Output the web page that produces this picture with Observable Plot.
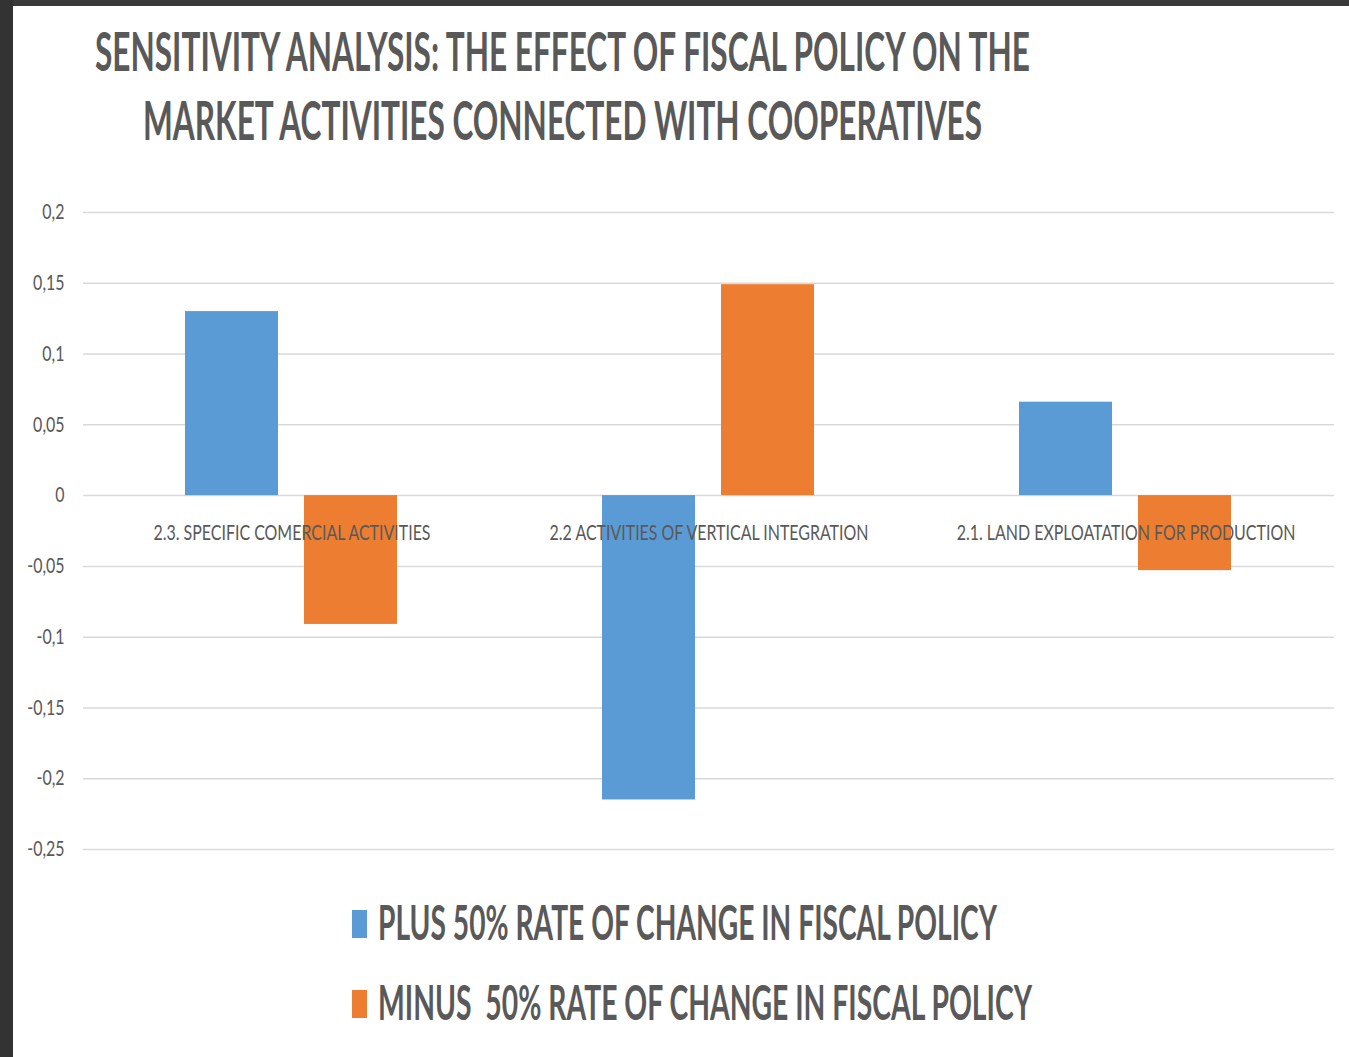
<!DOCTYPE html>
<html><head><meta charset="utf-8">
<script src="https://cdn.jsdelivr.net/npm/d3@7"></script>
<script src="https://cdn.jsdelivr.net/npm/@observablehq/plot@0.6"></script>
<style>
html,body{margin:0;padding:0;background:#fff;}
#page{position:relative;width:1349px;height:1057px;overflow:hidden;background:#fff;font-family:Lato,"Open Sans",sans-serif;}
#lbar{position:absolute;left:0;top:0;width:13px;height:1057px;background:#333;}
#tbar{position:absolute;left:0;top:0;width:1349px;height:6px;background:#3a3a3a;}
#chart{position:absolute;left:13px;top:190px;}
#overlay{position:absolute;left:0;top:0;}
</style></head><body>
<div id="page"><div id="chart"></div><svg id="overlay" width="1349" height="1057"></svg><div id="tbar"></div><div id="lbar"></div></div>
<script>
const titleLines = ["SENSITIVITY ANALYSIS: THE EFFECT OF FISCAL POLICY ON THE", "MARKET ACTIVITIES CONNECTED WITH COOPERATIVES"];
const categories = ["2.3. SPECIFIC COMERCIAL ACTIVITIES", "2.2 ACTIVITIES OF VERTICAL INTEGRATION", "2.1. LAND EXPLOATATION FOR PRODUCTION"];
const series = ["PLUS 50% RATE OF CHANGE IN FISCAL POLICY", "MINUS  50% RATE OF CHANGE IN FISCAL POLICY"];
const plusValues = [0.130, -0.215, 0.066];
const minusValues = [-0.091, 0.149, -0.053];
const yTicks = [0.2, 0.15, 0.1, 0.05, 0, -0.05, -0.1, -0.15, -0.2, -0.25];
const seriesColors = ["#5b9bd5", "#ed7d31"];
const textColor = "#595959";

const data = categories.flatMap((c, i) => [
  {category: c, series: series[0], value: plusValues[i]},
  {category: c, series: series[1], value: minusValues[i]}
]);

const chart = Plot.plot({
  width: 1336,
  height: 690,
  marginLeft: 69,
  marginRight: 15,
  marginTop: 22,
  marginBottom: 31,
  style: {fontFamily: "Lato, 'Open Sans', sans-serif", fontSize: "21px", color: textColor, background: "transparent"},
  fx: {domain: categories, padding: 0, axis: null, label: null},
  x: {domain: series, axis: null, paddingInner: 0.2167, paddingOuter: 0.846},
  y: {domain: [-0.25, 0.2], ticks: yTicks, tickFormat: d => String(d).replace(".", ","), tickSize: 0, tickPadding: 19, label: null},
  color: {domain: series, range: seriesColors},
  marks: [
    Plot.ruleY(yTicks, {stroke: "#d9d9d9", strokeWidth: 1.5}),
    Plot.barY(data, {fx: "category", x: "series", y: "value", fill: "series"}),
    Plot.text(categories, {fx: d => d, y: () => 0, text: d => d, dy: 38, fill: textColor, fontSize: 21})
  ]
});
document.getElementById("chart").appendChild(chart);

// horizontal compression to match the reference's narrow lettering
const texts = Array.from(chart.querySelectorAll("text"));
const first = texts.find(t => t.textContent === categories[0]);
const s = first ? 277 / first.getComputedTextLength() : 0.62;
texts.forEach(t => {
  const L = t.getComputedTextLength();
  if (L > 0) { t.setAttribute("textLength", L * s); t.setAttribute("lengthAdjust", "spacingAndGlyphs"); }
});

const ov = d3.select("#overlay");
const titleSpec = [{x: 95, y: 71, w: 935}, {x: 143, y: 140, w: 839}];
titleLines.forEach((t, i) => {
  ov.append("text").attr("x", titleSpec[i].x).attr("y", titleSpec[i].y)
    .attr("textLength", titleSpec[i].w).attr("lengthAdjust", "spacingAndGlyphs")
    .attr("font-family", "Lato, 'Open Sans', sans-serif").attr("font-weight", "bold")
    .attr("font-size", 53).attr("fill", textColor).text(t);
});
const legSpec = [{y: 940, w: 619}, {y: 1020, w: 654}];
series.forEach((name, i) => {
  ov.append("rect").attr("x", 352).attr("y", legSpec[i].y - 30).attr("width", 15).attr("height", 28).attr("fill", seriesColors[i]);
  ov.append("text").attr("x", 378).attr("y", legSpec[i].y)
    .attr("textLength", legSpec[i].w).attr("lengthAdjust", "spacingAndGlyphs")
    .style("white-space", "pre")
    .attr("font-family", "Lato, 'Open Sans', sans-serif").attr("font-weight", "bold")
    .attr("font-size", 48).attr("fill", textColor).text(name);
});
</script>
</body></html>
